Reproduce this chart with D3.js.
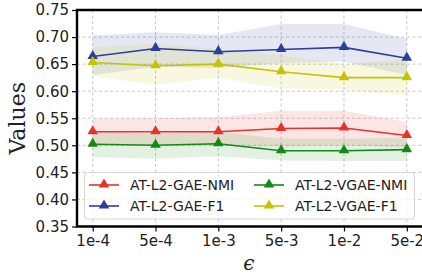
<!DOCTYPE html>
<html>
<head>
<meta charset="utf-8">
<script src="https://cdn.jsdelivr.net/npm/d3@7"></script>
<style>
  body { margin: 0; background: #fff; }
  svg { display: block; }
  text { font-family: "DejaVu Sans", sans-serif; fill: #222; }
</style>
</head>
<body>
<svg id="chart" width="422" height="279"></svg>
<script>
var epsLabels = ["1e-4", "5e-4", "1e-3", "5e-3", "1e-2", "5e-2"];
var yTicks = [0.35, 0.40, 0.45, 0.50, 0.55, 0.60, 0.65, 0.70, 0.75];

// means and bands
var gaeNmi      = [0.525, 0.525, 0.525, 0.531, 0.532, 0.518];
var gaeNmiHi    = [0.549, 0.550, 0.552, 0.564, 0.564, 0.543];
var gaeNmiLo    = [0.502, 0.501, 0.499, 0.498, 0.500, 0.496];

var gaeF1       = [0.664, 0.679, 0.673, 0.677, 0.681, 0.661];
var gaeF1Hi     = [0.703, 0.709, 0.704, 0.724, 0.724, 0.697];
var gaeF1Lo     = [0.630, 0.645, 0.643, 0.652, 0.655, 0.630];

var vgaeNmi     = [0.502, 0.500, 0.503, 0.490, 0.490, 0.492];
var vgaeNmiHi   = [0.524, 0.522, 0.525, 0.512, 0.512, 0.514];
var vgaeNmiLo   = [0.478, 0.475, 0.480, 0.472, 0.471, 0.471];

var vgaeF1      = [0.653, 0.647, 0.650, 0.636, 0.625, 0.625];
var vgaeF1Hi    = [0.681, 0.688, 0.678, 0.667, 0.650, 0.660];
var vgaeF1Lo    = [0.627, 0.612, 0.625, 0.605, 0.603, 0.592];

var series = [
    { name: "AT-L2-GAE-NMI",  color: "#e6332a", mean: gaeNmi,  hi: gaeNmiHi,  lo: gaeNmiLo },
    { name: "AT-L2-GAE-F1",   color: "#2c3f9e", mean: gaeF1,   hi: gaeF1Hi,   lo: gaeF1Lo },
    { name: "AT-L2-VGAE-NMI", color: "#138a13", mean: vgaeNmi, hi: vgaeNmiHi, lo: vgaeNmiLo },
    { name: "AT-L2-VGAE-F1",  color: "#c4c400", mean: vgaeF1,  hi: vgaeF1Hi,  lo: vgaeF1Lo }
];

var margin = { top: 10, left: 77, bottom: 52.5, right: -0.5 };
var width = 422 - margin.left - margin.right,
    height = 279 - margin.top - margin.bottom;

var svg = d3.select("#chart");
var g = svg.append("g").attr("transform", "translate(" + margin.left + "," + margin.top + ")");

var x = d3.scaleLinear().domain([-0.25, epsLabels.length - 0.75]).range([0, width]);
var y = d3.scaleLinear().domain([0.35, 0.75]).range([height, 0]);

// grid
g.append("g").selectAll("line").data(yTicks).enter().append("line")
    .attr("x1", 0).attr("x2", width)
    .attr("y1", function (d) { return y(d); }).attr("y2", function (d) { return y(d); })
    .attr("stroke", "#c8c8c8").attr("stroke-width", 1).attr("stroke-dasharray", "3,2.5");
g.append("g").selectAll("line").data(epsLabels).enter().append("line")
    .attr("y1", 0).attr("y2", height)
    .attr("x1", function (d, i) { return x(i); }).attr("x2", function (d, i) { return x(i); })
    .attr("stroke", "#c8c8c8").attr("stroke-width", 1).attr("stroke-dasharray", "3,2.5");

// bands
var area = d3.area()
    .x(function (d, i) { return x(i); })
    .y0(function (d) { return y(d[0]); })
    .y1(function (d) { return y(d[1]); });

for (const s of series)
{
    var band = s.lo.map(function (v, i) { return [v, s.hi[i]]; });
    g.append("path").datum(band)
        .attr("d", area)
        .attr("fill", s.color).attr("fill-opacity", 0.12);
}

// lines and markers
var line = d3.line().x(function (d, i) { return x(i); }).y(function (d) { return y(d); });
var tri = d3.symbol().type(d3.symbolTriangle).size(48);

for (const s of series)
{
    g.append("path").datum(s.mean)
        .attr("d", line)
        .attr("fill", "none").attr("stroke", s.color).attr("stroke-width", 1.6);
    g.append("g").selectAll("path").data(s.mean).enter().append("path")
        .attr("d", tri)
        .attr("transform", function (d, i) { return "translate(" + x(i) + "," + (y(d) - 0.5) + ")"; })
        .attr("fill", s.color);
}

// axes
var xAxis = g.append("g").attr("transform", "translate(0," + height + ")")
    .call(d3.axisBottom(x).tickValues(d3.range(epsLabels.length))
        .tickFormat(function (d) { return epsLabels[d]; }).tickSize(5).tickPadding(4));
var yAxis = g.append("g")
    .call(d3.axisLeft(y).tickValues(yTicks).tickFormat(d3.format(".2f")).tickSize(5).tickPadding(3));

[xAxis, yAxis].forEach(function (a)
{
    a.select(".domain").remove();
    a.selectAll(".tick line").attr("stroke", "#000").attr("stroke-width", 1.2);
    a.selectAll(".tick text").style("font-family", "DejaVu Sans").style("font-size", "15px").attr("fill", "#222");
});

// spines (the right one falls just outside the picture)
g.append("path")
    .attr("d", "M" + (width + 2) + ",0H0V" + height + "H" + (width + 2))
    .attr("fill", "none").attr("stroke", "#000").attr("stroke-width", 2.4);

// axis labels
svg.append("text")
    .attr("transform", "translate(25," + (margin.top + height / 2) + ") rotate(-90)")
    .attr("text-anchor", "middle")
    .style("font-family", "DejaVu Serif").style("font-size", "22px")
    .text("Values");
svg.append("text")
    .attr("x", margin.left + width / 2 - 1).attr("y", 270)
    .attr("text-anchor", "middle")
    .style("font-family", "DejaVu Serif").style("font-style", "italic").style("font-size", "20px")
    .text("\u03f5");

// legend
var legend = svg.append("g");
legend.append("rect")
    .attr("x", 84.5).attr("y", 172.5).attr("width", 330).attr("height", 46.5)
    .attr("rx", 3).attr("fill", "#fff").attr("fill-opacity", 0.8)
    .attr("stroke", "#d6d6d6").attr("stroke-width", 1);

var legendPos = [[89, 185], [89, 206], [254, 185], [254, 206]];
series.forEach(function (s, i)
{
    var p = legendPos[i];
    legend.append("line")
        .attr("x1", p[0]).attr("x2", p[0] + 30).attr("y1", p[1]).attr("y2", p[1])
        .attr("stroke", s.color).attr("stroke-width", 1.6);
    legend.append("path").attr("d", tri)
        .attr("transform", "translate(" + (p[0] + 15) + "," + (p[1] - 0.5) + ")")
        .attr("fill", s.color);
    legend.append("text")
        .attr("x", p[0] + 41).attr("y", p[1] + 5)
        .style("font-size", "14px")
        .text(s.name);
});
</script>
</body>
</html>
